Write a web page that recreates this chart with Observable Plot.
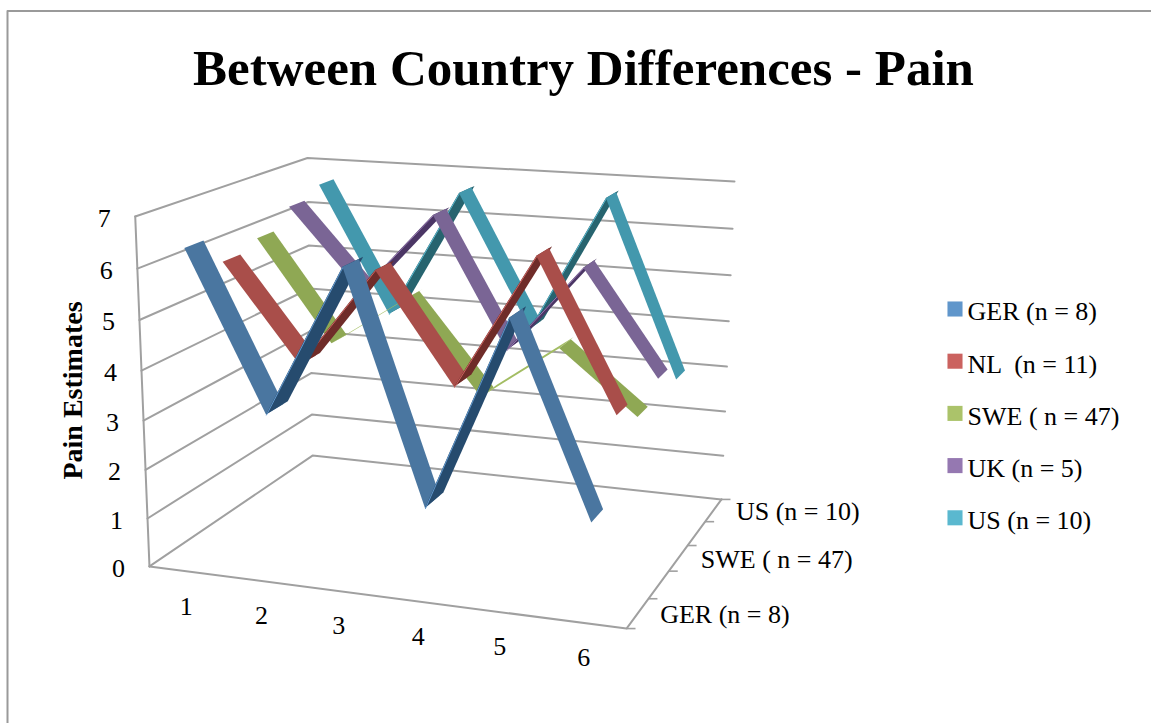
<!DOCTYPE html>
<html><head><meta charset="utf-8">
<script src="https://cdn.jsdelivr.net/npm/d3@7"></script>
<script src="https://cdn.jsdelivr.net/npm/@observablehq/plot@0.6"></script>
<style>html,body{margin:0;padding:0;background:#fff}svg{display:block}</style>
</head><body><div id="chart"></div>
<script>
const categories=[1,2,3,4,5,6];
const seriesNames=["GER (n = 8)","NL  (n = 11)","SWE ( n = 47)","UK (n = 5)","US (n = 10)"];
const valueTicks=[0,1,2,3,4,5,6,7];
const ger=[6.37,3.24,6.23,1.72,5.52,1.81];
const nl=[5.80,3.84,5.86,3.68,6.36,3.42];
const swe=[5.99,3.91,4.96,3.07,4.21,2.96];
const uk=[6.38,4.68,6.40,3.66,5.52,3.34];
const us=[6.61,3.84,6.61,3.76,6.69,2.93];
const legendColors=["#6096CB","#CB625F","#ABC36A","#9578B1","#5AB8CF"];
const fallColors=["#4A76A0","#A94E4A","#8FA854","#7A6595","#4398AD"];
const riseColors=["#264B6E","#6F2C29","#A3BD63","#4B3665","#27646F"];
const values=[ger,nl,swe,uk,us];

// 3D wall box as seen in the picture: corners (u,v,w)->pixel, fitted to a projective camera
const box=[[0,0,0,149,566],[0,0,1,134.7,216],[1,0,0,626,628],[0,1,0,312,455],[0,1,1,307,157.5],[1,1,0,721,499],[1,1,1,734,181]];
function fit(){
  const A=[],B=[];
  for(const [u,v,w,X0,Y0] of box){const X=X0/1000,Y=Y0/1000;
    A.push([u,v,w,1,0,0,0,0,-X*u,-X*v,-X*w]);B.push(X);
    A.push([0,0,0,0,u,v,w,1,-Y*u,-Y*v,-Y*w]);B.push(Y);}
  const n=11,M=Array.from({length:n},(_,i)=>{const r=new Array(n+1).fill(0);
    for(let j=0;j<n;j++){for(let k=0;k<A.length;k++)r[j]+=A[k][i]*A[k][j];}
    for(let k=0;k<A.length;k++)r[n]+=A[k][i]*B[k];r[i]+=1e-9;return r;});
  for(let i=0;i<n;i++){let p=i;for(let r=i+1;r<n;r++)if(Math.abs(M[r][i])>Math.abs(M[p][i]))p=r;[M[i],M[p]]=[M[p],M[i]];
    for(let r=0;r<n;r++)if(r!==i){const f=M[r][i]/M[i][i];for(let c=i;c<=n;c++)M[r][c]-=f*M[i][c];}}
  return M.map((r,i)=>r[n]/r[i]);
}
const C=fit();
function proj(u,v,w){const d=C[8]*u+C[9]*v+C[10]*w+1;
  return [1000*(C[0]*u+C[1]*v+C[2]*w+C[3])/d,1000*(C[4]*u+C[5]*v+C[6]*w+C[7])/d];}
const P=(cat,depth,val)=>proj(cat/6,depth/5,val/7); // cat,depth in category units

const halfDepth=0.25, riseBack=0.38;
const rank=(s,i)=>s===4?(i===0?2:0):s===3?(i===1?1:3):s+ (s===2?2:s===1?4:6);
const segs=[];
values.forEach((vals,s)=>{for(let i=0;i<5;i++){segs.push({s,i,r:rank(s,i)});}});
segs.sort((a,b)=>a.r-b.r);
const ribbonMarks=segs.flatMap(({s,i})=>{
  const vals=values[s],rise=vals[i+1]>vals[i],fill=rise?riseColors[s]:fallColors[s];
  const back=rise?riseBack:halfDepth;
  const rows=[i,i+1].map(j=>{
    const a=P(j+.5,s+.5-halfDepth,vals[j]),b=P(j+.5,s+.5+back,vals[j]);
    return {x1:a[0],y1:a[1],x2:b[0],y2:b[1]};
  });
  const out=[Plot.area(rows,{x1:"x1",y1:"y1",x2:"x2",y2:"y2",fill})];
  if(rise&&s!==2) out.push(Plot.line(rows,{x:"x1",y:"y1",stroke:legendColors[s],strokeWidth:1}));
  return out;
});
const grid=[];
valueTicks.forEach(t=>{for(const [c,d] of [[0,0],[0,5],[6,5]]){const p=P(c,d,t);grid.push({t,x:p[0],y:p[1]});}});
const edges=[];
for(const [c,d,e] of [[0,0,0],[6,0,0],[6,5,0]]){const p=P(c,d,e);edges.push({id:"floor",x:p[0],y:p[1]});}
for(const e of [0,7]){const p=P(0,0,e);edges.push({id:"axis",x:p[0],y:p[1]});}
const depthTicks=d3.range(6).map(d=>{const p=P(6,d,0);return{x1:p[0],y1:p[1],x2:p[0]+9,y2:p[1]};});
const yLabels=valueTicks.map(t=>{const p=P(0,0,t);return{t,x:p[0],y:p[1]};});
const xLabels=categories.map((c,i)=>{const p=P(i+.5,0,0);return{c,x:p[0],y:p[1]};});
const zLabels=[0,2,4].map(s=>{const p=P(6,s+.5,0);return{t:seriesNames[s],x:p[0],y:p[1]};});
const legendRows=seriesNames.map((n,i)=>({n,c:legendColors[i],y:308.5+i*52.2}));
const serif="'Liberation Serif',serif";

const plot=Plot.plot({width:1151,height:723,marginTop:0,marginRight:0,marginBottom:0,marginLeft:0,
  x:{type:"linear",domain:[0,1151],range:[0,1151],axis:null},
  y:{type:"linear",domain:[0,723],range:[0,723],axis:null},
  marks:[
    Plot.line([{x:1151,y:10.5},{x:7,y:10.5},{x:7,y:723}],{x:"x",y:"y",stroke:"#9a9a9a",strokeWidth:2}),
    Plot.line(grid,{x:"x",y:"y",z:"t",stroke:"#a0a0a0",strokeWidth:2}),
    Plot.line(edges,{x:"x",y:"y",z:"id",stroke:"#a0a0a0",strokeWidth:2}),
    Plot.link(depthTicks,{x1:"x1",y1:"y1",x2:"x2",y2:"y2",stroke:"#a0a0a0",strokeWidth:1.6}),
    ...ribbonMarks,
    Plot.text(["Between Country Differences - Pain"],{x:583,y:68,text:d=>d,fontSize:51,fontWeight:"bold",fontFamily:serif,fill:"#000"}),
    Plot.text(["Pain Estimates"],{x:73,y:390,text:d=>d,rotate:-90,fontSize:28,fontWeight:"bold",fontFamily:serif,fill:"#000"}),
    Plot.text(yLabels,{x:"x",y:"y",text:"t",dx:-31,dy:2,fontSize:26,fontFamily:serif,fill:"#000"}),
    Plot.text(xLabels,{x:"x",y:"y",text:"c",dx:0,dy:35,fontSize:26,fontFamily:serif,fill:"#000"}),
    Plot.text(zLabels,{x:"x",y:"y",text:"t",dx:22.5,dy:1.5,textAnchor:"start",fontSize:26,fontFamily:serif,fill:"#000"}),
    Plot.dot(legendRows,{x:()=>954.5,y:"y",symbol:"square",r:8.5,fill:"c"}),
    Plot.text(legendRows,{x:()=>967,y:"y",text:"n",dy:3,textAnchor:"start",fontSize:26,fontFamily:serif,fill:"#000"})
  ]});
document.getElementById("chart").append(plot);
</script></body></html>
